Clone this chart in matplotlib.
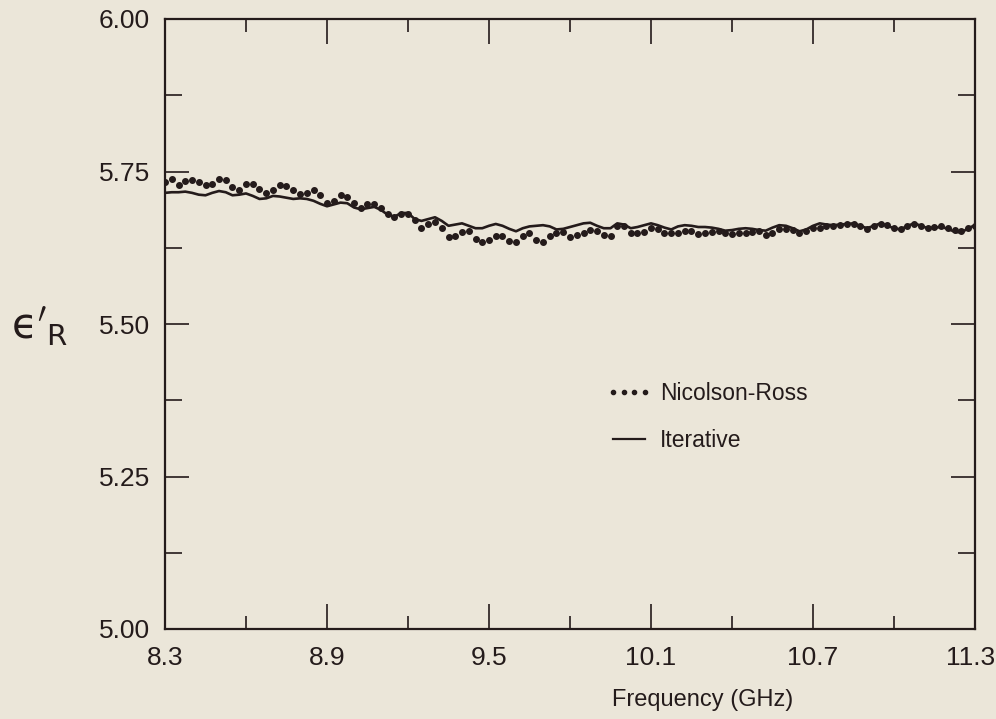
import numpy as np
import matplotlib.pyplot as plt
import matplotlib.transforms as mtransforms
from matplotlib.lines import Line2D
from matplotlib.ticker import FixedLocator, MultipleLocator, FormatStrFormatter

# =====================
# Data
# =====================
freq = np.linspace(8.3, 11.3, 121)   # GHz, 0.025 GHz steps

nicolson_ross = [
    5.733, 5.738, 5.728, 5.735, 5.736, 5.733, 5.728, 5.729, 5.738, 5.736,
    5.725, 5.720, 5.730, 5.729, 5.722, 5.714, 5.719, 5.728, 5.726, 5.720,
    5.713, 5.714, 5.719, 5.711, 5.698, 5.702, 5.711, 5.709, 5.698, 5.690,
    5.696, 5.696, 5.690, 5.681, 5.675, 5.681, 5.681, 5.670, 5.657, 5.664,
    5.668, 5.658, 5.643, 5.644, 5.651, 5.652, 5.640, 5.635, 5.638, 5.644,
    5.645, 5.636, 5.634, 5.644, 5.650, 5.638, 5.635, 5.644, 5.650, 5.651,
    5.643, 5.646, 5.650, 5.654, 5.653, 5.646, 5.644, 5.660, 5.660, 5.650,
    5.649, 5.651, 5.657, 5.655, 5.650, 5.649, 5.650, 5.652, 5.653, 5.647,
    5.649, 5.651, 5.653, 5.649, 5.648, 5.649, 5.650, 5.651, 5.653, 5.646,
    5.650, 5.655, 5.656, 5.654, 5.650, 5.653, 5.657, 5.658, 5.660, 5.661,
    5.663, 5.664, 5.664, 5.660, 5.656, 5.660, 5.664, 5.662, 5.657, 5.656,
    5.660, 5.664, 5.661, 5.658, 5.659, 5.660, 5.658, 5.654, 5.653, 5.657,
    5.661,
]

iterative = [
    5.715, 5.716, 5.716, 5.717, 5.715, 5.712, 5.711, 5.715, 5.718, 5.716,
    5.711, 5.712, 5.714, 5.710, 5.705, 5.706, 5.710, 5.709, 5.707, 5.705,
    5.706, 5.705, 5.702, 5.697, 5.693, 5.696, 5.699, 5.698, 5.691, 5.688,
    5.690, 5.692, 5.687, 5.679, 5.676, 5.682, 5.682, 5.672, 5.669, 5.672,
    5.675, 5.669, 5.661, 5.663, 5.665, 5.661, 5.657, 5.657, 5.661, 5.664,
    5.661, 5.656, 5.652, 5.657, 5.660, 5.661, 5.662, 5.660, 5.655, 5.656,
    5.659, 5.662, 5.665, 5.666, 5.661, 5.657, 5.657, 5.665, 5.663, 5.657,
    5.659, 5.662, 5.665, 5.662, 5.658, 5.655, 5.660, 5.662, 5.661, 5.659,
    5.659, 5.658, 5.656, 5.653, 5.654, 5.656, 5.657, 5.656, 5.654, 5.653,
    5.658, 5.662, 5.661, 5.657, 5.652, 5.655, 5.661, 5.665, 5.663, 5.662,
    5.663, 5.664, 5.665, 5.661, 5.657, 5.661, 5.665, 5.661, 5.657, 5.655,
    5.661, 5.665, 5.661, 5.657, 5.658, 5.659, 5.656, 5.651, 5.650, 5.657,
    5.662,
]

x_ticks = [8.3, 8.9, 9.5, 10.1, 10.7, 11.3]
x_labels = ["8.3", "8.9", "9.5", "10.1", "10.7", "11.3"]
x_minor = [8.6, 9.2, 9.8, 10.4, 11.0]
y_ticks = [5.00, 5.25, 5.50, 5.75, 6.00]

# =====================
# Style
# =====================
paper = "#ebe6d9"
ink = "#241b1b"
faint = "#d9d3c5"
plt.rcParams['font.family'] = ['Liberation Sans', 'DejaVu Sans']
plt.rcParams['mathtext.fontset'] = 'dejavusans'

fig = plt.figure(figsize=(9.96, 7.19), dpi=100, facecolor=paper)
ax = fig.add_axes([165/996, 90/719, 810/996, 610/719], facecolor=paper)

# =====================
# Curves
# =====================
ax.plot(freq, iterative, color=ink, lw=1.9, solid_joinstyle='round',
        solid_capstyle='round')
ax.plot(freq, nicolson_ross, ls='none', marker='o', ms=4.0, color=ink, mec=ink)

# =====================
# Axes
# =====================
ax.set_xlim(8.3, 11.3)
ax.set_ylim(5.0, 6.0)
ax.set_xticks(x_ticks)
ax.set_xticklabels(x_labels[:-1] + [""])
ax.set_yticks(y_ticks)
ax.xaxis.set_minor_locator(FixedLocator(x_minor))
ax.yaxis.set_minor_locator(MultipleLocator(0.125))
ax.yaxis.set_major_formatter(FormatStrFormatter('%.2f'))

for s in ax.spines.values():
    s.set_color(ink)
    s.set_linewidth(1.6)

ax.tick_params(axis='both', which='both', direction='in', colors=ink,
               top=True, right=True, width=1.2, labelsize=19)
ax.tick_params(axis='x', which='major', length=18, pad=12)
ax.tick_params(axis='x', which='minor', length=9.5)
ax.tick_params(axis='y', which='major', length=17, pad=11)
ax.tick_params(axis='y', which='minor', length=12)

# bottom ticks are barely visible in the scan
for t in ax.xaxis.get_major_ticks() + ax.xaxis.get_minor_ticks():
    t.tick1line.set_color(faint)

# last x label nudged left so it stays inside the figure
nudge = mtransforms.ScaledTranslation(-4/100, -12/72, fig.dpi_scale_trans)
ax.text(x_ticks[-1], 0, x_labels[-1], transform=ax.get_xaxis_transform() + nudge,
        ha='center', va='top', fontsize=19, color=ink)

fig.text(703/996, 1 - 700/719, "Frequency (GHz)", fontsize=17, color=ink,
         ha='center', va='center')

# y label: eps'_R (upright lunate epsilon)
fig.text(11/996, 1 - 326/719, "$\\mathrm{\u03f5}'_{\\mathrm{R}}$", fontsize=30,
         color=ink, ha='left', va='center')

# =====================
# Legend
# =====================
handles = [
    Line2D([], [], ls='none', marker='o', ms=3.0, color=ink),
    Line2D([], [], color=ink, lw=1.6),
]
leg = ax.legend(handles, ["Nicolson-Ross", "Iterative"], loc='upper left',
                bbox_to_anchor=(606/996, 1 - 382/719),
                bbox_transform=fig.transFigure, frameon=False,
                fontsize=16.5, numpoints=4, handlelength=2.0,
                handletextpad=0.36, labelspacing=1.05, borderpad=0,
                borderaxespad=0)
for txt in leg.get_texts():
    txt.set_color(ink)

plt.savefig("out.png", dpi=100, facecolor=paper)
